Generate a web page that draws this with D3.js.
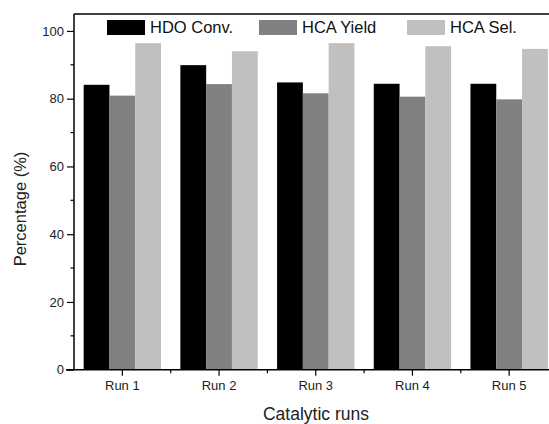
<!DOCTYPE html>
<html><head><meta charset="utf-8">
<script src="https://cdn.jsdelivr.net/npm/d3@7"></script>
<style>body{margin:0;background:#fff}svg{display:block;font-family:Arial,"Liberation Sans",sans-serif}</style>
</head><body><svg id="c" width="549" height="424"></svg>
<script>
const runs = ["Run 1","Run 2","Run 3","Run 4","Run 5"];
const seriesNames = ["HDO Conv.","HCA Yield","HCA Sel."];
const hdoConv = [84.1, 89.9, 84.8, 84.4, 84.4];
const hcaYield = [80.9, 84.3, 81.6, 80.6, 79.8];
const hcaSel = [96.4, 94.0, 96.4, 95.5, 94.7];
const yTicks = [0, 20, 40, 60, 80, 100];
const colors = ["#000000", "#808080", "#c0c0c0"];

(function () {
const series = [hdoConv, hcaYield, hcaSel];
const svg = d3.select("#c");
const L = 74, R = 557.5, T = 14, B = 369.7;

const x = d3.scaleBand().domain(runs).range([L, R]).paddingInner(0.2).paddingOuter(0.1);
const xs = d3.scaleBand().domain(seriesNames).range([0, x.bandwidth()]);
const y = d3.scaleLinear().domain([0, 105]).range([B, T]);

// bars
runs.forEach((r, i) => {
  series.forEach((s, j) => {
    svg.append("rect")
      .attr("x", x(r) + xs(seriesNames[j]))
      .attr("y", y(s[i]))
      .attr("width", xs.bandwidth())
      .attr("height", y(0) - y(s[i]))
      .attr("fill", colors[j]);
  });
});

// top frame
svg.append("line").attr("x1", L).attr("x2", 549).attr("y1", T).attr("y2", T)
  .attr("stroke", "#000").attr("stroke-width", 1.5);

// y axis
const yAxis = svg.append("g").attr("transform", `translate(${L},0)`)
  .call(d3.axisLeft(y).tickValues(yTicks).tickSize(7).tickPadding(3));
yAxis.select(".domain").attr("d", `M0,${T}V${B}`).attr("stroke-width", 1.5);
yAxis.selectAll("text").attr("font-size", 13).attr("fill", "#222");
yAxis.selectAll(".tick line").attr("stroke-width", 1.2);
const minor = d3.range(10, 105, 20);
svg.append("g").selectAll("line").data(minor).join("line")
  .attr("x1", L - 3.5).attr("x2", L).attr("y1", d => y(d)).attr("y2", d => y(d))
  .attr("stroke", "#000").attr("stroke-width", 1.2);

// x axis
const xAxis = svg.append("g").attr("transform", `translate(0,${B})`)
  .call(d3.axisBottom(x).tickSize(6).tickPadding(5));
xAxis.select(".domain").attr("d", `M${L - 8},0H549`).attr("stroke-width", 1.5);
xAxis.selectAll("text").attr("font-size", 13).attr("fill", "#222");
xAxis.selectAll(".tick line").attr("stroke-width", 1.2);
const step = x.step();
svg.append("g").selectAll("line").data(runs.slice(0, 4)).join("line")
  .attr("x1", d => x(d) + x.bandwidth() / 2 + step / 2)
  .attr("x2", d => x(d) + x.bandwidth() / 2 + step / 2)
  .attr("y1", B).attr("y2", B + 3.5)
  .attr("stroke", "#000").attr("stroke-width", 1.2);

// axis titles
svg.append("text").attr("x", 316).attr("y", 420).attr("text-anchor", "middle")
  .attr("font-size", 17.5).attr("fill", "#222").text("Catalytic runs");
svg.append("text").attr("transform", "translate(26,209) rotate(-90)").attr("text-anchor", "middle")
  .attr("font-size", 16.5).attr("fill", "#222").text("Percentage (%)");

// legend
const legX = [107, 259, 407];
seriesNames.forEach((n, j) => {
  svg.append("rect").attr("x", legX[j]).attr("y", 20).attr("width", 38).attr("height", 15).attr("fill", colors[j]);
  svg.append("text").attr("x", legX[j] + 43).attr("y", 33).attr("font-size", 16.5).attr("fill", "#111").text(n);
});
})();
</script></body></html>
